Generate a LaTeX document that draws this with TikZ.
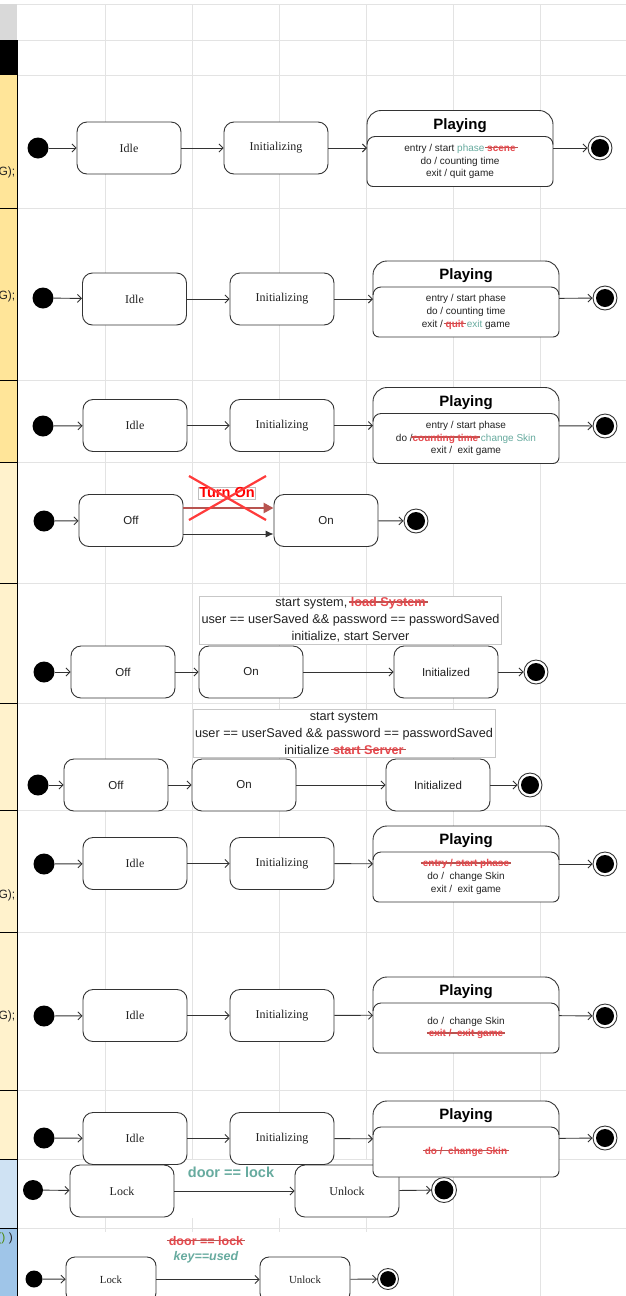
\documentclass[tikz,border=0pt]{standalone}
\usepackage{fontspec}
\setmainfont{Liberation Serif}
\setsansfont{Liberation Sans}
\usetikzlibrary{arrows.meta,calc}

\definecolor{gridc}{HTML}{E3E3E3}
\definecolor{boxc}{HTML}{333333}
\definecolor{textc}{HTML}{222222}
\definecolor{okteal}{HTML}{67AB9F}
\definecolor{strikered}{HTML}{E5484D}
\definecolor{strikeline}{HTML}{B85450}
\definecolor{oldarrow}{HTML}{B85450}
\definecolor{crossred}{HTML}{FF3B3B}
\definecolor{laneA}{HTML}{FFE599}
\definecolor{laneB}{HTML}{FFF2CC}
\definecolor{laneC}{HTML}{CFE2F3}
\definecolor{laneD}{HTML}{9FC5E8}
\definecolor{laneTop}{HTML}{D9D9D9}
\definecolor{codegreen}{HTML}{4E8A0E}

% struck-out (removed) text
\newcommand\strk[1]{{\bfseries\color{strikered}\setbox0=\hbox{#1}%
  \rlap{\color{strikeline}\kern-2pt\rule[0.32em]{\dimexpr\wd0+4pt\relax}{1.4pt}}\box0}}

% composite "Playing" state: rounded header with a compartment below
\newcommand\playbox[3]{%
  \node[playarea] (#1) at (#2) {};
  \draw[boxline, fill=white] ([yshift=-26pt]#1.north west) [rounded corners=14pt]
    -- (#1.north west) -- (#1.north east) -- ([yshift=-26pt]#1.north east)
    [rounded corners=6pt] -- (#1.south east) -- (#1.south west) -- cycle;
  \draw[boxline] ([yshift=-34pt]#1.north west) [rounded corners=8pt]
    -- ([yshift=-26pt]#1.north west) -- ([yshift=-26pt]#1.north east)
    -- ([yshift=-34pt]#1.north east);
  \node[playtitle] (#1-title) at ([yshift=-15pt]#1.north) {Playing};
  \node[playbody] (#1-body) at ([yshift=25pt]#1.south) {#3};
}

\begin{document}
\begin{tikzpicture}[x=1pt,y=-1pt,
  gridline/.style={draw=gridc, line width=0.8pt},
  boxline/.style={draw=boxc, line width=0.9pt},
  stbox/.style={boxline, fill=white, rounded corners=10pt, minimum width=104pt,
    minimum height=52pt, inner sep=0pt, text=textc},
  serifname/.style={font=\fontsize{12}{14}\selectfont},
  sansname/.style={font=\sffamily\fontsize{11.5}{14}\selectfont},
  startdot/.style={circle, fill=black, minimum size=#1, inner sep=0pt},
  startdot/.default=21pt,
  enddot/.style={circle, boxline, fill=white, minimum size=#1, inner sep=0pt,
    path picture={\fill[black] (path picture bounding box.center) circle ({0.375*#1});}},
  enddot/.default=24pt,
  flow/.style={boxline, -{Straight Barb[length=4pt,width=8pt,line width=0.9pt]}},
  playarea/.style={minimum width=186pt, minimum height=76pt, inner sep=0pt, outer sep=0pt},
  playtitle/.style={font=\sffamily\bfseries\fontsize{15}{18}\selectfont, inner sep=0pt, text=black},
  playbody/.style={font=\sffamily\fontsize{10}{12.7}\selectfont, align=center, inner sep=0pt, text=textc},
  guard/.style={draw=black!22, line width=0.6pt, fill=white, font=\sffamily\fontsize{12.7}{17}\selectfont,
    align=center, inner sep=0pt, minimum width=302pt, minimum height=48pt, text=textc},
  lanetext/.style={font=\sffamily\fontsize{12}{14}\selectfont, text=textc, anchor=east, inner sep=0pt}
]
\useasboundingbox (0,0) rectangle (626,1296);
\clip (0,0) rectangle (626,1296);
\fill[white] (0,0) rectangle (626,1296);

% background grid
\foreach \gx in {105,192,279,366,453,540}
  \draw[gridline] (\gx,4) -- (\gx,1296);
\foreach \gy in {4,40,75,208,380,462,583,703,810,932,1090,1159,1228}
  \draw[gridline] (17,\gy) -- (626,\gy);

% lane header strip
\fill[laneTop] (0,4) rectangle (17,40);
\fill[black] (0,40) rectangle (17,75);
\fill[laneA] (0,75) rectangle (17,462);
\fill[laneB] (0,462) rectangle (17,1159);
\fill[laneC] (0,1159) rectangle (17,1228);
\fill[laneD] (0,1228) rectangle (17,1296);
\foreach \gy in {208,380,462,583,703,810,932,1090,1159,1228}
  \draw[black, line width=0.9pt] (0,\gy) -- (17,\gy);
\draw[black, line width=0.9pt] (17,40) -- (17,1296);
\node[lanetext] (g1) at (15.5,172) {G);};
\node[lanetext] (g2) at (15.5,296) {G);};
\node[lanetext] (g3) at (15.5,895) {G);};
\node[lanetext] (g4) at (15.5,1016) {G);};
\node[lanetext] (g5) at (13,1238) {{\color{codegreen}()} )};

% plain backgrounds of the lock machines
\fill[white] (18,1160) rectangle (450,1218);
\fill[white] (18,1232) rectangle (450,1296);

% ---- Idle / Initializing / Playing, version 1
\node[startdot] (r1s) at (38,148) {};
\node[stbox,serifname] (r1a) at (129,148) {Idle};
\node[stbox,serifname] (r1b) at (276,148) {Initializing};
\playbox{r1p}{460,148.5}{entry / start {\color{okteal}phase} \strk{scene}\\do / counting time\\exit / quit game}
\node[enddot] (r1e) at (600,148) {};
\draw[flow] (r1s) -- (r1a);
\draw[flow] (r1a) -- (r1b);
\draw[flow] (r1b) -- (r1b.east -| r1p.west);
\draw[flow] (r1p.east |- r1e) -- (r1e);

% ---- version 2
\node[startdot] (r2s) at (43,298) {};
\node[stbox,serifname] (r2a) at (134.5,299) {Idle};
\node[stbox,serifname] (r2b) at (282,299) {Initializing};
\playbox{r2p}{466,299}{entry / start phase\\do / counting time\\exit / \strk{quit} {\color{okteal}exit} game}
\node[enddot] (r2e) at (605,298) {};
\draw[flow] (r2s) -- (r2a);
\draw[flow] (r2a) -- (r2b);
\draw[flow] (r2b) -- (r2p);
\draw[flow] (r2p) -- (r2e);

% ---- version 3
\node[startdot] (r3s) at (43,426) {};
\node[stbox,serifname] (r3a) at (135,425.5) {Idle};
\node[stbox,serifname] (r3b) at (282,425.5) {Initializing};
\playbox{r3p}{466,425.5}{entry / start phase\\do /\strk{counting time} {\color{okteal}change Skin}\\exit / \ exit game}
\node[enddot] (r3e) at (605,426) {};
\draw[flow] (r3s) -- (r3a);
\draw[flow] (r3a) -- (r3b);
\draw[flow] (r3b) -- (r3p);
\draw[flow] (r3p) -- (r3e);

% ---- Off / On
\node[startdot] (r4s) at (44,521) {};
\node[stbox,sansname] (r4a) at (131,520.5) {Off};
\node[stbox,sansname] (r4b) at (326,520.5) {On};
\node[enddot] (r4e) at (416,521) {};
\draw[flow] (r4s) -- (r4a);
\draw[boxline, -{Latex[length=8pt,width=7pt]}] ([yshift=-13.5pt]r4a.east) -- ([yshift=-13.5pt]r4b.west);
\draw[draw=oldarrow, line width=2.6pt, -{Triangle[length=10pt,width=10pt]}] ([yshift=12.5pt]r4a.east) -- ([yshift=12.5pt]r4b.west);
\draw[flow] (r4b) -- (r4e);
\node[draw=black!25, line width=0.5pt, text=red, font=\sffamily\bfseries\fontsize{14.5}{16}\selectfont, inner sep=1pt] (r4l) at (227,493) {Turn On};
\draw[crossred, line width=2.2pt] (189,476) -- (266,520) (266,476) -- (189,520);

% ---- Off / On / Initialized, version 1
\node[startdot] (r5s) at (44,672) {};
\node[stbox,sansname] (r5a) at (123,672) {Off};
\node[stbox,sansname] (r5b) at (251,672) {On};
\node[stbox,sansname] (r5c) at (446,672) {Initialized};
\node[enddot] (r5e) at (536,672) {};
\draw[flow] (r5s) -- (r5a);
\draw[flow] (r5a) -- (r5b);
\draw[flow] (r5b) -- (r5c);
\draw[flow] (r5c) -- (r5e);
\node[guard] (r5l) at (350.5,620) {start system, \strk{load System}\\user == userSaved \&\& password == passwordSaved\\initialize, start Server};

% ---- Off / On / Initialized, version 2
\node[startdot] (r6s) at (38,785) {};
\node[stbox,sansname] (r6a) at (116,785) {Off};
\node[stbox,sansname] (r6b) at (244,785) {On};
\node[stbox,sansname] (r6c) at (438,785) {Initialized};
\node[enddot] (r6e) at (530,785) {};
\draw[flow] (r6s) -- (r6a);
\draw[flow] (r6a) -- (r6b);
\draw[flow] (r6b) -- (r6c);
\draw[flow] (r6c) -- (r6e);
\node[guard] (r6l) at (344,733) {start system\\user == userSaved \&\& password == passwordSaved\\initialize \strk{start Server}};

% ---- version 4
\node[startdot] (r7s) at (44,864) {};
\node[stbox,serifname] (r7a) at (135,863.5) {Idle};
\node[stbox,serifname] (r7b) at (282,863.5) {Initializing};
\playbox{r7p}{466,864}{\strk{entry / start phase}\\do / \ change Skin\\exit / \ exit game}
\node[enddot] (r7e) at (605,864) {};
\draw[flow] (r7s) -- (r7a);
\draw[flow] (r7a) -- (r7b);
\draw[flow] (r7b) -- (r7p);
\draw[flow] (r7p) -- (r7e);

% ---- version 5
\node[startdot] (r8s) at (44,1016) {};
\node[stbox,serifname] (r8a) at (135,1015.5) {Idle};
\node[stbox,serifname] (r8b) at (282,1015.5) {Initializing};
\playbox{r8p}{466,1015}{do / \ change Skin\\\strk{exit / \ exit game}}
\node[enddot] (r8e) at (605,1016) {};
\draw[flow] (r8s) -- (r8a);
\draw[flow] (r8a) -- (r8b);
\draw[flow] (r8b) -- (r8p);
\draw[flow] (r8p) -- (r8e);

% ---- Lock / Unlock, version 1
\node[startdot=20pt] (r10s) at (33,1190) {};
\node[stbox,serifname] (r10a) at (122,1191) {Lock};
\node[stbox,serifname] (r10b) at (347,1191) {Unlock};
\node[enddot=25pt] (r10e) at (444,1190) {};
\draw[flow] (r10s) -- (r10a);
\draw[flow] (r10a) -- (r10b);
\draw[flow] (r10b) -- (r10e);
\node[font=\sffamily\bfseries\fontsize{14.5}{17}\selectfont, text=okteal, inner sep=0pt] (r10l) at (231,1172) {door == lock};

% ---- Lock / Unlock, version 2
\node[startdot=17pt] (r11s) at (34,1279) {};
\node[stbox, minimum width=90pt, minimum height=45pt, rounded corners=9pt, font=\fontsize{10.8}{13}\selectfont] (r11a) at (111,1279.5) {Lock};
\node[stbox, minimum width=90pt, minimum height=45pt, rounded corners=9pt, font=\fontsize{10.8}{13}\selectfont] (r11b) at (305,1279.5) {Unlock};
\node[enddot=21pt] (r11e) at (388,1279) {};
\draw[flow] (r11s) -- (r11a);
\draw[flow] (r11a) -- (r11b);
\draw[flow] (r11b) -- (r11e);
\node[font=\sffamily\bfseries\fontsize{12.5}{15}\selectfont, align=center, inner sep=0pt] (r11l) at (206,1249.5)
  {\strk{door == lock}\\{\itshape\color{okteal}key==used}};

% ---- version 6 (its compartment overlaps the lock lane)
\node[startdot] (r9s) at (44,1138) {};
\node[stbox,serifname] (r9a) at (135,1138.5) {Idle};
\node[stbox,serifname] (r9b) at (282,1138.5) {Initializing};
\playbox{r9p}{466,1139}{\strk{do / \ change Skin}}
\node[enddot] (r9e) at (605,1138) {};
\draw[flow] (r9s) -- (r9a);
\draw[flow] (r9a) -- (r9b);
\draw[flow] (r9b) -- (r9p);
\draw[flow] (r9p) -- (r9e);
\end{tikzpicture}
\end{document}
